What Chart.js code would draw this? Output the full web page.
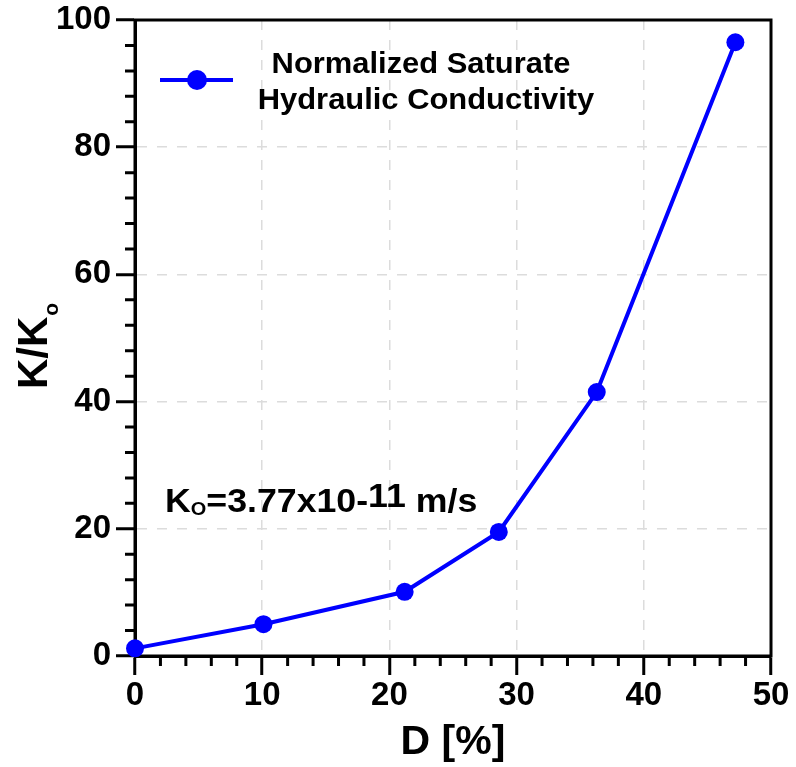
<!DOCTYPE html>
<html><head><meta charset="utf-8">
<style>html,body{margin:0;padding:0;background:#fff;}#wrap{width:796px;height:767px;}</style>
<script src="https://cdn.jsdelivr.net/npm/chart.js@4.4.1/dist/chart.umd.min.js"></script>
</head><body><div id="wrap"><canvas id="c" width="796" height="767"></canvas></div>
<script>
const dValues = [0, 10.1, 21.2, 28.6, 36.3, 47.2];
const kRatio = [1.2, 5.0, 10.1, 19.5, 41.5, 96.5];
const xTickStep = 10;
const yTickStep = 20;
const xMinorStep = 2;
const yMinorStep = 4;
const seriesLabel = ['Normalized Saturate', 'Hydraulic Conductivity'];
const xTitle = 'D [%]';
const yTitleMain = 'K/K';
const yTitleSub = 'o';

const FONT = '"Liberation Sans", Arial, sans-serif';
const BLUE = '#0000ff';

const decorPlugin = {
  id: 'decor',
  beforeDatasetsDraw(chart) {
    const ctx = chart.ctx, a = chart.chartArea;
    const xs = chart.scales.x, ys = chart.scales.y;
    ctx.save();
    ctx.strokeStyle = '#000';
    ctx.lineWidth = 3;
    ctx.strokeRect(a.left, a.top, a.right - a.left, a.bottom - a.top);
    ctx.beginPath();
    for (let v = xs.min; v <= xs.max + 1e-9; v += xMinorStep) {
      if (Math.abs(v % xTickStep) < 1e-9) continue;
      const px = xs.getPixelForValue(v);
      ctx.moveTo(px, a.bottom); ctx.lineTo(px, a.bottom + 10);
    }
    for (let v = ys.min; v <= ys.max + 1e-9; v += yMinorStep) {
      if (Math.abs(v % yTickStep) < 1e-9) continue;
      const py = ys.getPixelForValue(v);
      ctx.moveTo(a.left, py); ctx.lineTo(a.left - 10, py);
    }
    ctx.stroke();
    ctx.restore();
  },
  afterDraw(chart) {
    const ctx = chart.ctx;
    ctx.save();
    ctx.translate(47, 389);
    ctx.rotate(-Math.PI / 2);
    ctx.fillStyle = '#000';
    ctx.textBaseline = 'alphabetic';
    ctx.textAlign = 'left';
    ctx.font = 'bold 42px ' + FONT;
    ctx.fillText(yTitleMain, 0, 0);
    const w = ctx.measureText(yTitleMain).width;
    ctx.font = 'bold 21px ' + FONT;
    ctx.fillText(yTitleSub, w + 1, 11);
    ctx.restore();

    ctx.save();
    ctx.strokeStyle = BLUE; ctx.lineWidth = 4;
    ctx.beginPath(); ctx.moveTo(160, 80); ctx.lineTo(233, 80); ctx.stroke();
    ctx.fillStyle = BLUE;
    ctx.beginPath(); ctx.arc(197, 80, 10, 0, Math.PI * 2); ctx.fill();
    ctx.fillStyle = '#000';
    ctx.font = 'bold 30px ' + FONT;
    ctx.textAlign = 'center';
    ctx.textBaseline = 'alphabetic';
    const sx = 1.03;
    ctx.save(); ctx.translate(421, 73); ctx.scale(sx, 1); ctx.fillText(seriesLabel[0], 0, 0); ctx.restore();
    ctx.save(); ctx.translate(426, 109); ctx.scale(sx, 1); ctx.fillText(seriesLabel[1], 0, 0); ctx.restore();
    ctx.restore();

    ctx.save();
    ctx.fillStyle = '#000';
    ctx.textAlign = 'left';
    ctx.textBaseline = 'alphabetic';
    ctx.translate(165, 512);
    ctx.scale(1.05, 1);
    let x = 0; const by = 0;
    ctx.font = 'bold 34px ' + FONT;
    ctx.fillText('K', x, by); x += ctx.measureText('K').width;
    ctx.font = 'bold 19px ' + FONT;
    ctx.fillText('O', x, by + 3); x += ctx.measureText('O').width;
    ctx.font = 'bold 34px ' + FONT;
    ctx.fillText('=3.77x10-', x, by); x += ctx.measureText('=3.77x10-').width;
    ctx.fillText('11', x, by - 5); x += ctx.measureText('11').width;
    ctx.fillText(' m/s', x, by);
    ctx.restore();
  }
};

new Chart(document.getElementById('c'), {
  type: 'line',
  data: {
    datasets: [{
      label: seriesLabel.join(' '),
      data: dValues.map((d, i) => ({x: d, y: kRatio[i]})),
      borderColor: BLUE,
      backgroundColor: BLUE,
      borderWidth: 4,
      pointRadius: 9,
      pointHoverRadius: 9,
      pointBackgroundColor: BLUE,
      pointBorderWidth: 0,
      tension: 0,
      clip: false
    }]
  },
  options: {
    responsive: false,
    animation: false,
    devicePixelRatio: 1,
    layout: {padding: {top: 20, right: 25, left: 0, bottom: 0}},
    plugins: {legend: {display: false}, tooltip: {enabled: false}},
    scales: {
      x: {
        type: 'linear', min: 0, max: 50,
        ticks: {stepSize: xTickStep, color: '#000', font: {family: FONT, size: 33, weight: 'bold'}, padding: 1, maxRotation: 0},
        grid: {color: (c) => (c.tick && (c.tick.value === 0 || c.tick.value === 50)) ? 'rgba(0,0,0,0)' : '#dcdcdc', lineWidth: 1.5, tickColor: '#000', tickWidth: 3, tickLength: 19, tickBorderDash: []},
        border: {display: true, color: '#000', width: 3, dash: [10, 10]},
        title: {display: true, text: xTitle, color: '#000', font: {family: FONT, size: 41, weight: 'bold'}, padding: {top: 0, bottom: 0}},
        afterFit(s) { s.height = 111; s.paddingLeft = 0; s.paddingRight = 0; }
      },
      y: {
        type: 'linear', min: 0, max: 100,
        ticks: {stepSize: yTickStep, color: '#000', font: {family: FONT, size: 33, weight: 'bold'}, padding: 5},
        grid: {color: (c) => (c.tick && (c.tick.value === 0 || c.tick.value === 100)) ? 'rgba(0,0,0,0)' : '#dcdcdc', lineWidth: 1.5, tickColor: '#000', tickWidth: 3, tickLength: 19, tickBorderDash: []},
        border: {display: true, color: '#000', width: 3, dash: [10, 10]},
        afterFit(s) { s.width = 135; s.paddingTop = 0; s.paddingBottom = 0; }
      }
    }
  },
  plugins: [decorPlugin]
});
</script>
</body></html>
